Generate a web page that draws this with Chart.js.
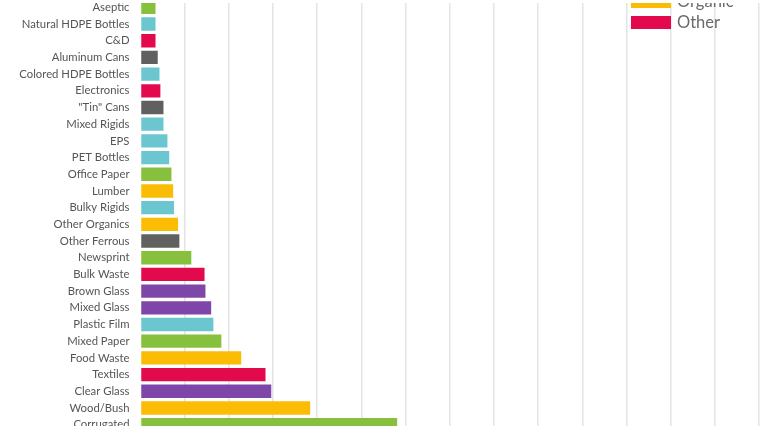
<!DOCTYPE html>
<html>
<head>
<meta charset="utf-8">
<script src="https://cdn.jsdelivr.net/npm/chart.js@4"></script>
<style>
  html, body { margin: 0; padding: 0; background: #ffffff; }
  body { width: 770px; height: 433px; position: relative; overflow: hidden; }
  #clip { position: absolute; left: 0; top: 3px; width: 770px; height: 423px; overflow: hidden; }
  #holder { position: absolute; left: 0; top: -4px; width: 770px; height: 434px; }
  #legend { position: absolute; left: 0; top: -3px; width: 770px; height: 0; }
  .lg-item { position: absolute; left: 631px; height: 13px; }
  .lg-box { position: absolute; left: 0; top: 0; width: 40px; height: 13px; }
  .lg-text { position: absolute; left: 46px; top: -4px; font-family: "Lato", sans-serif; font-size: 16.5px; line-height: 20px; color: #6a6a6a; white-space: nowrap; }
</style>
</head>
<body>
<div id="clip">
  <div id="holder"><canvas id="c"></canvas></div>
  <div id="legend"></div>
</div>
<script>
// ---- data ----
const categories = [
  "Aseptic", "Natural HDPE Bottles", "C&D", "Aluminum Cans", "Colored HDPE Bottles",
  "Electronics", "\"Tin\" Cans", "Mixed Rigids", "EPS", "PET Bottles",
  "Office Paper", "Lumber", "Bulky Rigids", "Other Organics", "Other Ferrous",
  "Newsprint", "Bulk Waste", "Brown Glass", "Mixed Glass", "Plastic Film",
  "Mixed Paper", "Food Waste", "Textiles", "Clear Glass", "Wood/Bush", "Corrugated"
];
const values = [
  0.34, 0.34, 0.34, 0.39, 0.43,
  0.45, 0.52, 0.52, 0.61, 0.65,
  0.70, 0.74, 0.76, 0.85, 0.88,
  1.15, 1.45, 1.47, 1.60, 1.65,
  1.83, 2.28, 2.83, 2.96, 3.84, 5.81
];
const materialGroup = [
  "Paper", "Plastic", "Other", "Metal", "Plastic",
  "Other", "Metal", "Plastic", "Plastic", "Plastic",
  "Paper", "Organic", "Plastic", "Organic", "Metal",
  "Paper", "Other", "Glass", "Glass", "Plastic",
  "Paper", "Organic", "Other", "Glass", "Organic", "Paper"
];
const legendGroups = ["Paper", "Plastic", "Metal", "Glass", "Organic", "Other"];
const groupColors = {
  "Paper": "#86c03d",
  "Plastic": "#6cc6d0",
  "Metal": "#606060",
  "Glass": "#7e46a8",
  "Organic": "#fbbc06",
  "Other": "#e20a4c"
};

// ---- legend (HTML) ----
const legendEl = document.getElementById("legend");
legendGroups.forEach(function (g, i) {
  const item = document.createElement("div");
  item.className = "lg-item";
  item.style.top = (16 - (legendGroups.length - 1 - i) * 21) + "px";
  const box = document.createElement("div");
  box.className = "lg-box";
  box.style.background = groupColors[g];
  const txt = document.createElement("div");
  txt.className = "lg-text";
  txt.textContent = g;
  item.appendChild(box);
  item.appendChild(txt);
  legendEl.appendChild(item);
});

// ---- chart ----
const ctx = document.getElementById("c");
new Chart(ctx, {
  type: "bar",
  data: {
    labels: categories,
    datasets: [{
      data: values,
      backgroundColor: materialGroup.map(function (g) { return groupColors[g]; }),
      borderWidth: 0,
      barPercentage: 0.8,
      categoryPercentage: 1.0
    }]
  },
  options: {
    indexAxis: "y",
    responsive: true,
    maintainAspectRatio: false,
    animation: false,
    layout: { padding: { left: 0, right: 11, top: 0, bottom: 0 } },
    plugins: { legend: { display: false }, tooltip: { enabled: false } },
    scales: {
      x: {
        min: 0,
        max: 14,
        ticks: { display: false, stepSize: 1 },
        border: { display: false },
        grid: {
          drawTicks: false,
          lineWidth: 1.5,
          color: function (c) { return c.tick && c.tick.value === 0 ? "rgba(0,0,0,0)" : "#e4e4e4"; }
        },
        afterFit: function (s) { s.height = 0; s.paddingLeft = 0; s.paddingRight = 0; }
      },
      y: {
        border: { display: false },
        grid: { display: false, drawTicks: false },
        ticks: {
          padding: 11,
          autoSkip: false,
          color: "#555555",
          font: { family: "Lato", size: 11.3 }
        },
        afterFit: function (s) { s.width = 140.5; s.paddingTop = 0; s.paddingBottom = 0; }
      }
    }
  }
});
</script>
</body>
</html>
